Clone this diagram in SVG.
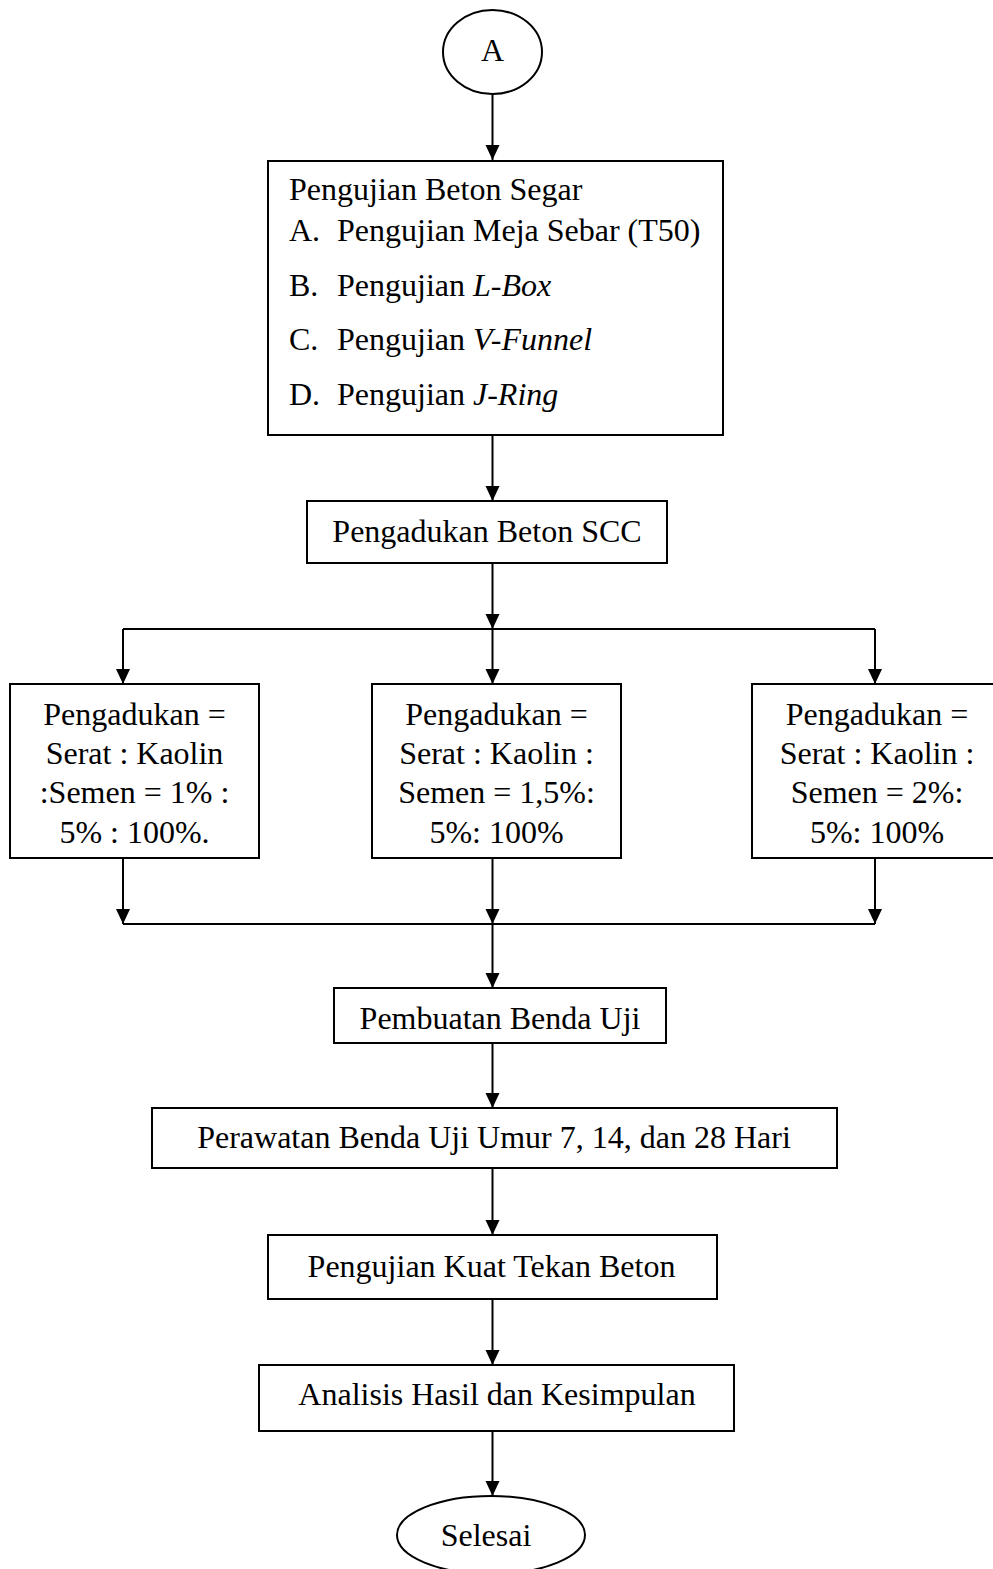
<svg xmlns="http://www.w3.org/2000/svg" width="993" height="1569" viewBox="0 0 993 1569">
<style>
.box{fill:#fff;stroke:#000;stroke-width:2}
.t{font-family:"Liberation Serif","Times New Roman",serif;font-size:32px;fill:#000}
.c{text-anchor:middle}
.ln{stroke:#000;stroke-width:2;fill:none}
</style>
<defs>
<marker id="ah" markerUnits="userSpaceOnUse" markerWidth="16" markerHeight="16" viewBox="0 0 16 16" refX="15" refY="8" orient="auto">
<path d="M0,1 L15,8 L0,15 Z" fill="#000"/>
</marker>
</defs>
<rect width="993" height="1569" fill="#fff"/>
<g id="connectors">
<line class="ln" x1="492.5" y1="94" x2="492.5" y2="160" marker-end="url(#ah)"/>
<line class="ln" x1="492.5" y1="435" x2="492.5" y2="501" marker-end="url(#ah)"/>
<line class="ln" x1="492.5" y1="563" x2="492.5" y2="629" marker-end="url(#ah)"/>
<line class="ln" x1="123" y1="629" x2="875" y2="629"/>
<line class="ln" x1="123" y1="629" x2="123" y2="684" marker-end="url(#ah)"/>
<line class="ln" x1="492.5" y1="629" x2="492.5" y2="684" marker-end="url(#ah)"/>
<line class="ln" x1="875" y1="629" x2="875" y2="684" marker-end="url(#ah)"/>
<line class="ln" x1="123" y1="858" x2="123" y2="924" marker-end="url(#ah)"/>
<line class="ln" x1="492.5" y1="858" x2="492.5" y2="924" marker-end="url(#ah)"/>
<line class="ln" x1="875" y1="858" x2="875" y2="924" marker-end="url(#ah)"/>
<line class="ln" x1="123" y1="924" x2="875" y2="924"/>
<line class="ln" x1="492.5" y1="924" x2="492.5" y2="988" marker-end="url(#ah)"/>
<line class="ln" x1="492.5" y1="1043" x2="492.5" y2="1108" marker-end="url(#ah)"/>
<line class="ln" x1="492.5" y1="1168" x2="492.5" y2="1235" marker-end="url(#ah)"/>
<line class="ln" x1="492.5" y1="1299" x2="492.5" y2="1365" marker-end="url(#ah)"/>
<line class="ln" x1="492.5" y1="1431" x2="492.5" y2="1496" marker-end="url(#ah)"/>
</g>
<g id="start">
<ellipse class="box" cx="492.5" cy="52" rx="49.5" ry="42"/>
<text class="t c" x="492.5" y="61">A</text>
</g>
<g id="beton-segar">
<rect class="box" x="268" y="161" width="455" height="274"/>
<text class="t" x="289" y="200">Pengujian Beton Segar</text>
<text class="t" x="289" y="241">A.</text><text class="t" x="337" y="241">Pengujian Meja Sebar (T50)</text>
<text class="t" x="289" y="296">B.</text><text class="t" x="337" y="296">Pengujian <tspan font-style="italic">L-Box</tspan></text>
<text class="t" x="289" y="350">C.</text><text class="t" x="337" y="350">Pengujian <tspan font-style="italic">V-Funnel</tspan></text>
<text class="t" x="289" y="405">D.</text><text class="t" x="337" y="405">Pengujian <tspan font-style="italic">J-Ring</tspan></text>
</g>
<g id="pengadukan-scc">
<rect class="box" x="307" y="501" width="360" height="62"/>
<text class="t c" x="487" y="542">Pengadukan Beton SCC</text>
</g>
<g id="mix-1">
<rect class="box" x="10" y="684" width="249" height="174"/>
<text class="t c" x="134.5" y="725">Pengadukan =</text>
<text class="t c" x="134.5" y="764">Serat : Kaolin</text>
<text class="t c" x="134.5" y="803">:Semen = 1% :</text>
<text class="t c" x="134.5" y="843">5% : 100%.</text>
</g>
<g id="mix-2">
<rect class="box" x="372" y="684" width="249" height="174"/>
<text class="t c" x="496.5" y="725">Pengadukan =</text>
<text class="t c" x="496.5" y="764">Serat : Kaolin :</text>
<text class="t c" x="496.5" y="803">Semen = 1,5%:</text>
<text class="t c" x="496.5" y="843">5%: 100%</text>
</g>
<g id="mix-3">
<rect class="box" x="752" y="684" width="252" height="174"/>
<text class="t c" x="877" y="725">Pengadukan =</text>
<text class="t c" x="877" y="764">Serat : Kaolin :</text>
<text class="t c" x="877" y="803">Semen = 2%:</text>
<text class="t c" x="877" y="843">5%: 100%</text>
</g>
<g id="pembuatan">
<rect class="box" x="334" y="988" width="332" height="55"/>
<text class="t c" x="500" y="1029">Pembuatan Benda Uji</text>
</g>
<g id="perawatan">
<rect class="box" x="152" y="1108" width="685" height="60"/>
<text class="t c" x="494" y="1148">Perawatan Benda Uji Umur 7, 14, dan 28 Hari</text>
</g>
<g id="kuat-tekan">
<rect class="box" x="268" y="1235" width="449" height="64"/>
<text class="t c" x="491.5" y="1277">Pengujian Kuat Tekan Beton</text>
</g>
<g id="analisis">
<rect class="box" x="259" y="1365" width="475" height="66"/>
<text class="t c" x="497" y="1405">Analisis Hasil dan Kesimpulan</text>
</g>
<g id="selesai">
<ellipse class="box" cx="491" cy="1535" rx="94" ry="39"/>
<text class="t c" x="486" y="1546">Selesai</text>
</g>
</svg>
